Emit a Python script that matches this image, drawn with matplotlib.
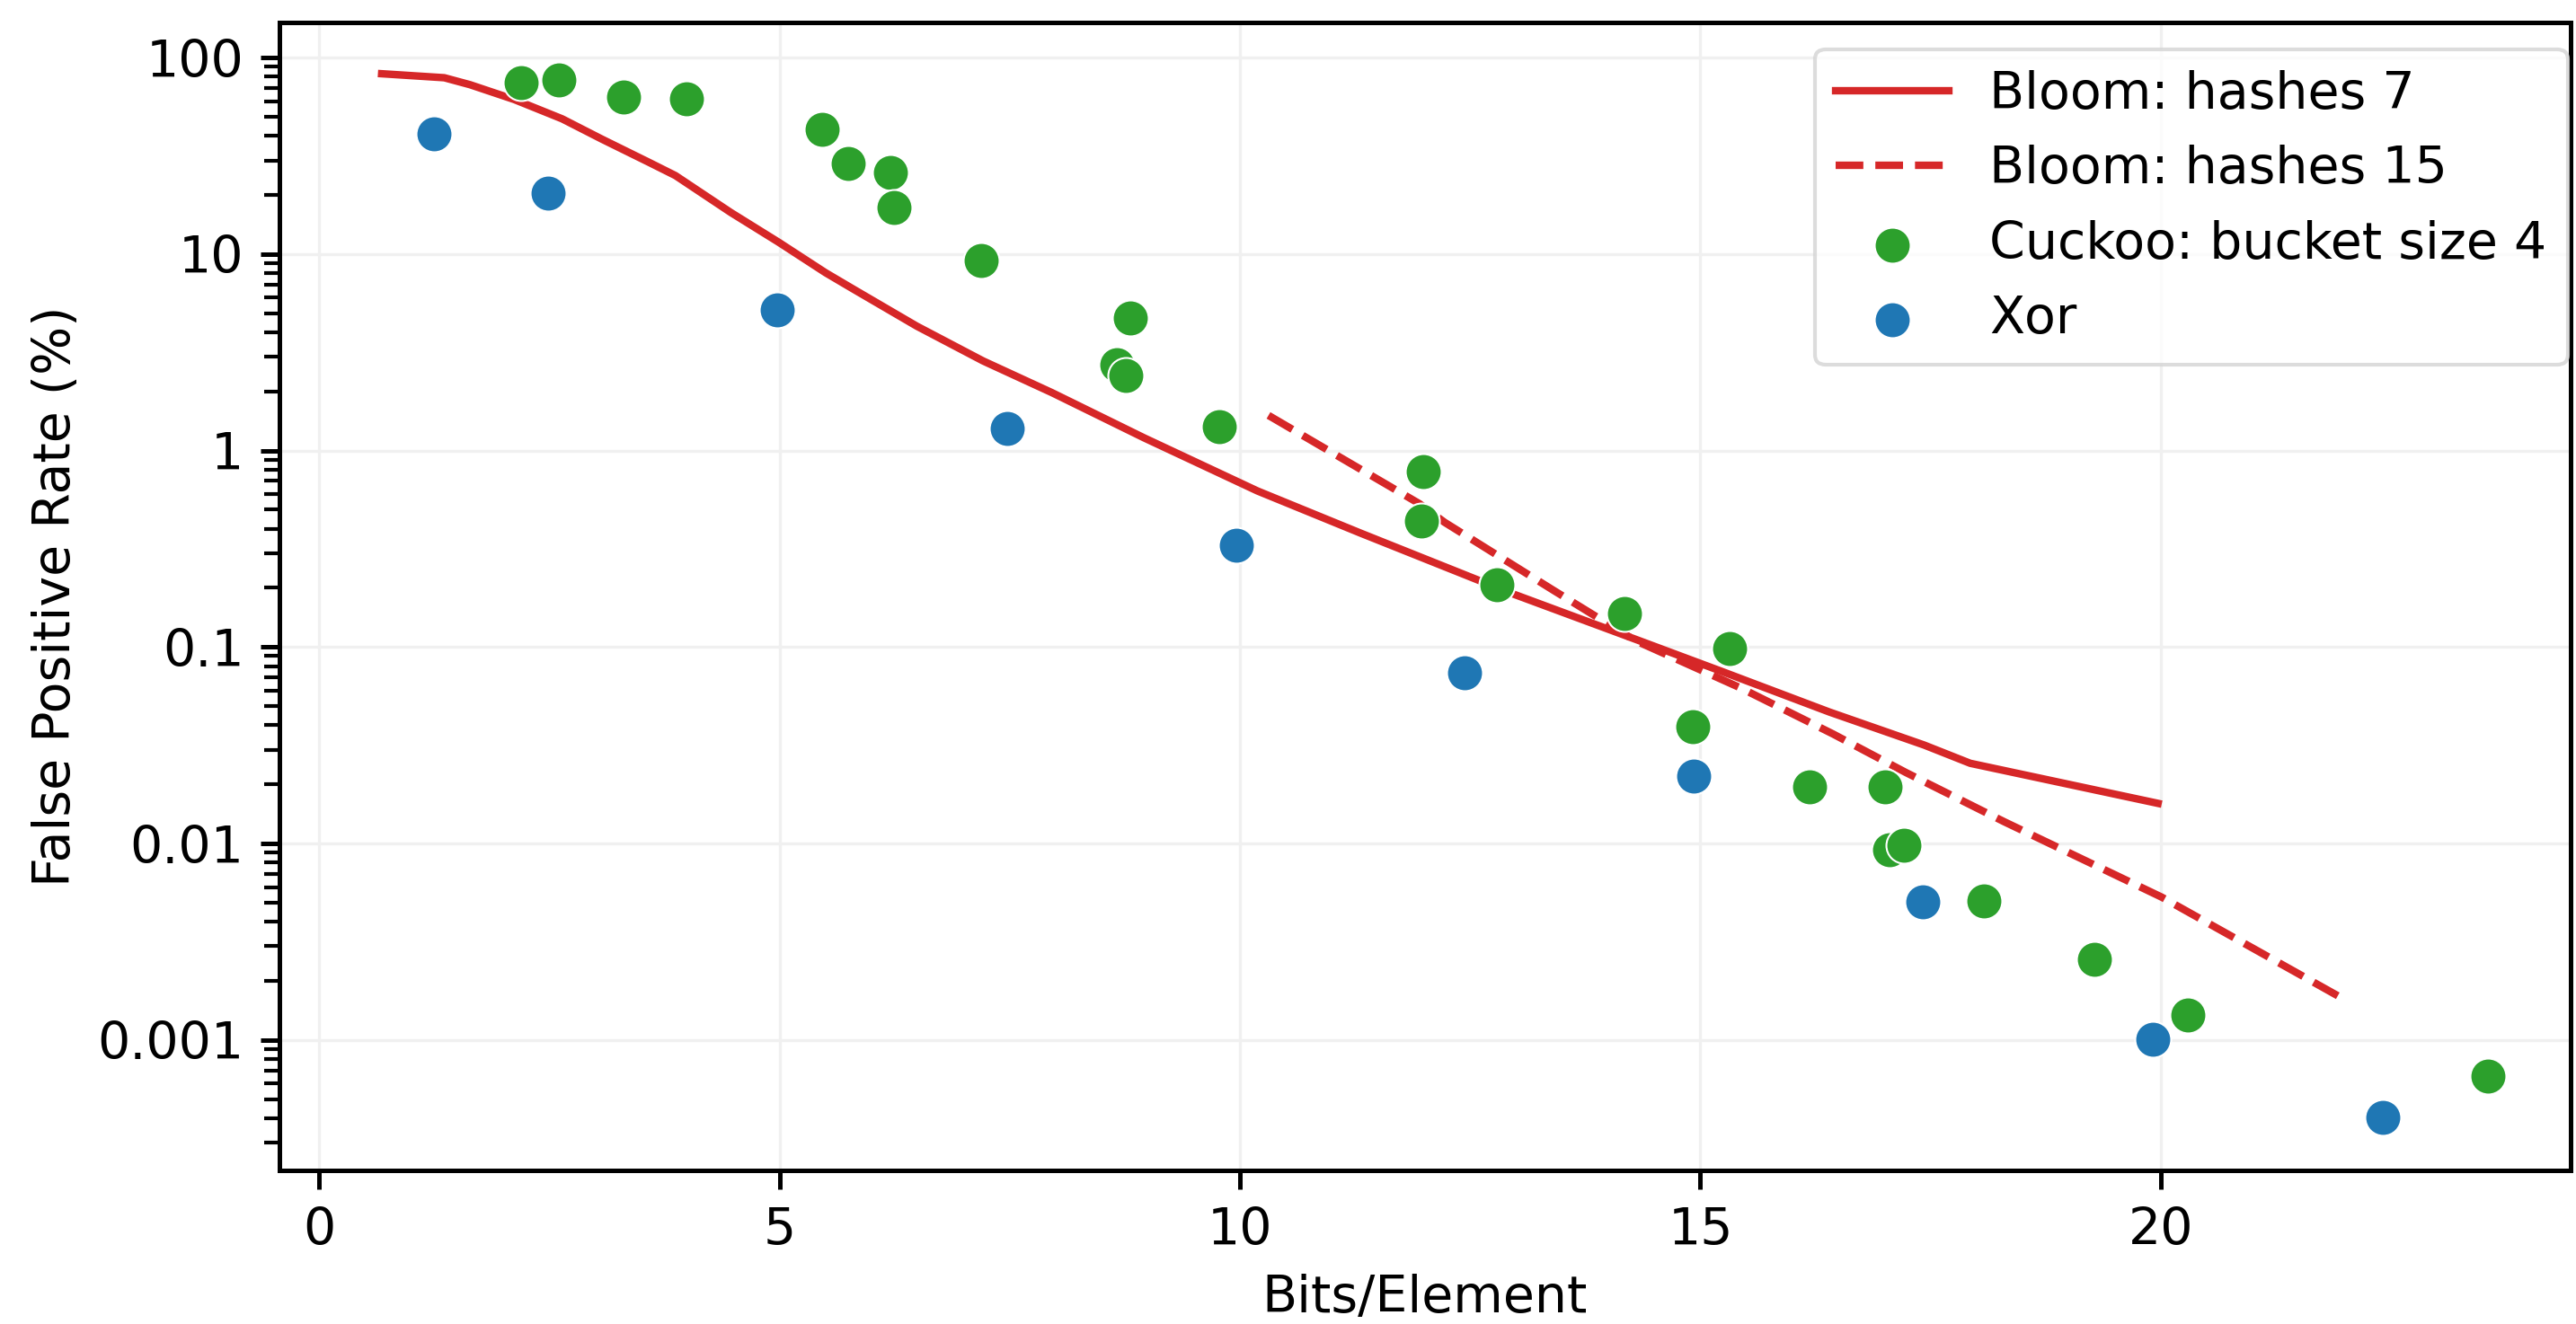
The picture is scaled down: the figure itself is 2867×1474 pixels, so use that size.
import matplotlib
matplotlib.use("Agg")
import matplotlib.pyplot as plt
from matplotlib.ticker import FuncFormatter, FixedLocator

# ---- data ----
bloom7_x = [0.68, 1.36, 1.64, 2.12, 2.64, 3.07, 3.59, 3.87, 4.47, 4.99, 5.50, 5.81,
            6.49, 7.21, 7.96, 8.96, 10.19, 11.31, 12.06, 12.93, 14.33, 15.24, 16.40,
            17.43, 17.93, 19.97]
bloom7_y = [82.8, 79.0, 72.8, 61.2, 48.8, 38.5, 29.2, 25.1, 16.3, 11.5, 8.04, 6.6,
            4.30, 2.86, 1.97, 1.16, 0.623, 0.38, 0.275, 0.189, 0.108, 0.0749, 0.0467,
            0.0317, 0.0256, 0.0160]

bloom15_x = [10.31, 11.95, 12.22, 13.40, 14.29, 15.44, 16.44, 17.23, 18.30, 20.01, 21.97]
bloom15_y = [1.51, 0.536, 0.432, 0.195, 0.108, 0.0618, 0.0361, 0.023, 0.0129, 0.00533, 0.00163]

cuckoo_x = [2.19, 2.60, 3.31, 3.99, 5.46, 5.75, 6.20, 6.24, 7.19, 8.66, 8.76, 8.81, 9.78,
            11.97, 11.99, 12.79, 14.18, 14.92, 15.32, 16.19, 17.01, 17.05, 17.21, 18.08,
            19.28, 20.29, 23.55]
cuckoo_y = [74.4, 76.6, 62.9, 61.8, 43.1, 29.0, 26.0, 17.2, 9.26, 2.73, 2.42, 4.73, 1.32,
            0.438, 0.78, 0.208, 0.148, 0.0392, 0.0984, 0.0195, 0.0195, 0.00933, 0.00978,
            0.00511, 0.00258, 0.00134, 0.000652]

xor_x = [1.25, 2.49, 4.98, 7.47, 9.96, 12.44, 14.93, 17.42, 19.91, 22.41]
xor_y = [41.1, 20.5, 5.2, 1.30, 0.331, 0.0743, 0.0221, 0.00505, 0.00101, 0.000405]

labels = ["Bloom: hashes 7", "Bloom: hashes 15", "Cuckoo: bucket size 4", "Xor"]
x_ticks = [0, 5, 10, 15, 20]
y_ticks = [0.001, 0.01, 0.1, 1, 10, 100]

# ---- style ----
FS = 13.7
plt.rcParams['font.family'] = ['DejaVu Sans']
plt.rcParams['font.size'] = FS

W, H = 2867, 1474
DPI = 300
fig = plt.figure(figsize=(W / DPI, H / DPI), dpi=DPI)
ax = fig.add_axes([311 / W, 1 - 1303 / H, (2861 - 311) / W, (1303 - 25) / H])

red = '#d62728'
ax.plot(bloom7_x, bloom7_y, color=red, lw=2.0, label=labels[0], zorder=2)
ax.plot(bloom15_x, bloom15_y, color=red, lw=2.0, ls='--', label=labels[1], zorder=2)
ax.scatter(cuckoo_x, cuckoo_y, s=92, color='#2ca02c', edgecolors='white',
           linewidths=0.5, label=labels[2], zorder=3)
ax.scatter(xor_x, xor_y, s=92, color='#1f77b4', edgecolors='white',
           linewidths=0.5, label=labels[3], zorder=3)

ax.set_yscale('log')
ax.set_xlim(-0.43, 24.45)
ax.set_ylim(10 ** -3.664, 10 ** 2.179)

ax.xaxis.set_major_locator(FixedLocator(x_ticks))
ax.yaxis.set_major_locator(FixedLocator(y_ticks))
ax.yaxis.set_major_formatter(FuncFormatter(lambda v, p: '%g' % v))

ax.grid(True, which='major', color='#f0f0f0', linewidth=0.8)
ax.set_axisbelow(True)

for sp in ax.spines.values():
    sp.set_linewidth(1.2)
    sp.set_color('black')
ax.tick_params(which='major', length=5, width=1.2, labelsize=FS, pad=4.5)
ax.tick_params(which='minor', length=4, width=1.0)

ax.set_xlabel("Bits/Element", fontsize=FS, labelpad=5)
ax.set_ylabel("False Positive Rate (%)", fontsize=FS, labelpad=4.5)

leg = ax.legend(loc='upper right', bbox_to_anchor=(2857.5 / W, 1 - 54.7 / H),
                bbox_transform=fig.transFigure, borderaxespad=0, fontsize=FS,
                fancybox=True, framealpha=0.8, handlelength=2.2)
leg.get_frame().set_edgecolor('#d4d4d4')
leg.get_frame().set_linewidth(1.0)

fig.savefig("out.png", dpi=DPI)
